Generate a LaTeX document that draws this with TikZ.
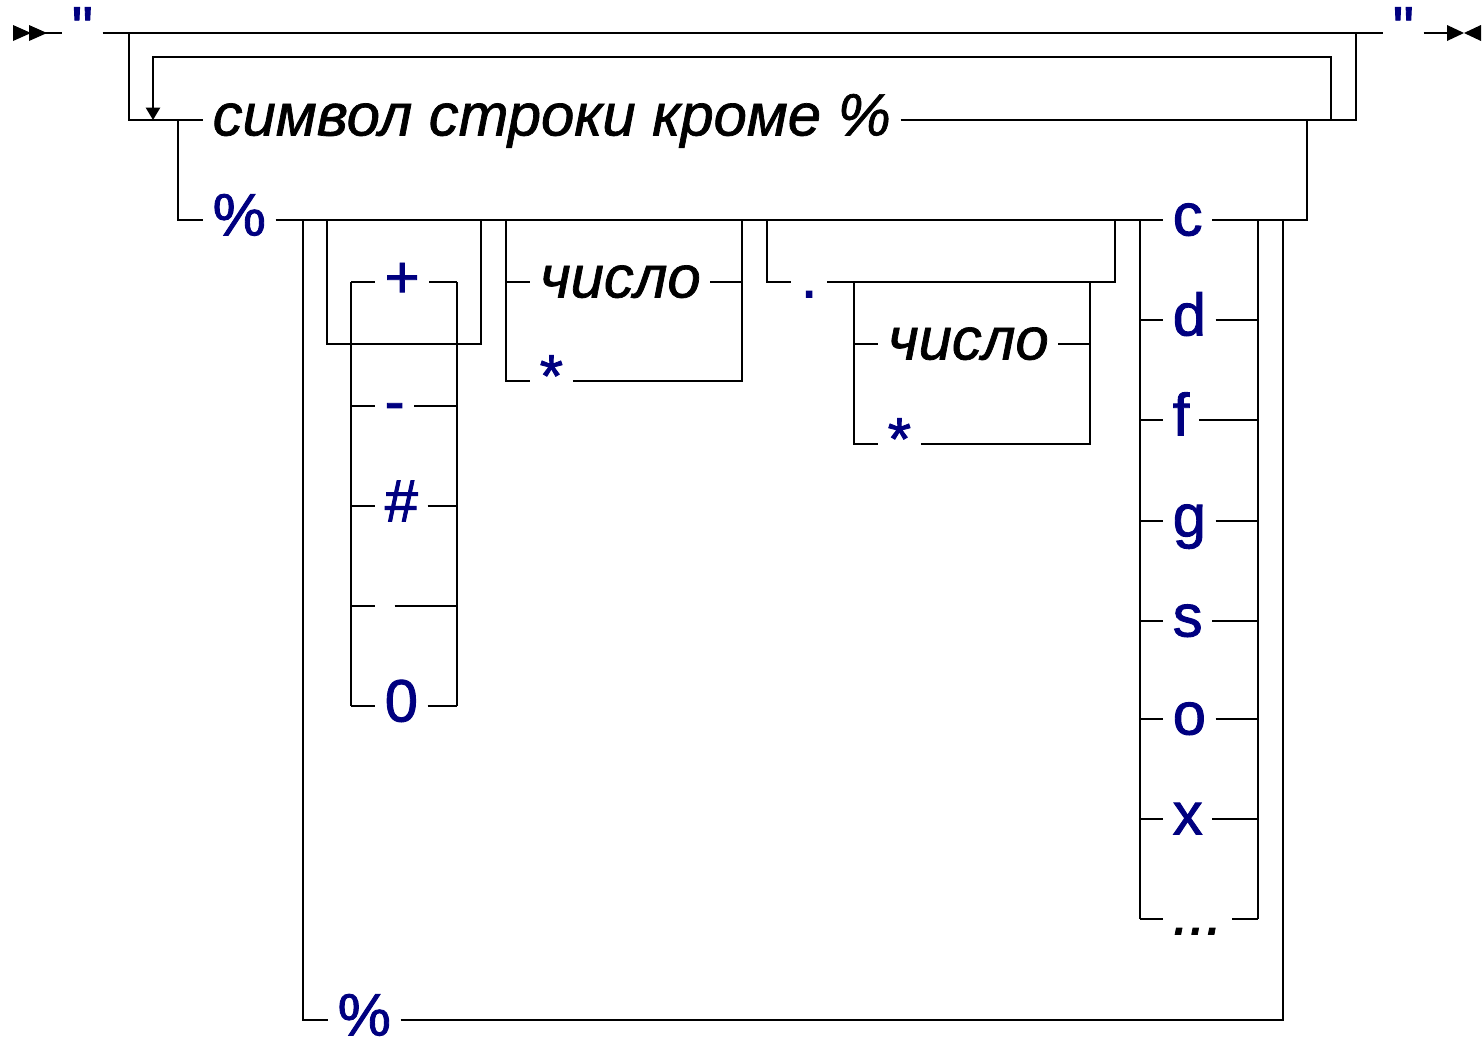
\documentclass[tikz,border=0pt]{standalone}
\usepackage{fontspec}
\setmainfont{Liberation Sans}[Ligatures=TeXOff]
\usetikzlibrary{arrows.meta}
\definecolor{termblue}{RGB}{0,0,128}

\begin{document}
\begin{tikzpicture}[x=0.02cm, y=-0.02cm, line width=1.1pt,
  term/.style={anchor=west, text=termblue,
    font=\fontsize{34}{40}\selectfont\addfontfeatures{FakeBold=1.5},
    inner xsep=5pt, inner ysep=0pt, text height=26pt, text depth=8.4pt},
  nterm/.style={term, text=black,
    font=\fontsize{34}{40}\selectfont\itshape\addfontfeatures{FakeBold=1.2}}]
\useasboundingbox (0,0) rectangle (1483,1041);

% start and end marks
\fill (13,25) -- (31,33) -- (13,41) -- cycle;
\fill (29,25) -- (47,33) -- (29,41) -- cycle;
\fill (1447,25) -- (1464,33) -- (1447,41) -- cycle;
\fill (1481,25) -- (1464,33) -- (1481,41) -- cycle;

% main line
\coordinate (st) at (45,33);
\coordinate (en) at (1447,33);
\coordinate (lpA) at (129,33);
\coordinate (lpB) at (1356,33);
\node[term] (q1) at (62,33) {"};
\node[term] (q2) at (1383,33) {"};
\draw (st) -- (q1) (q1) -- (q2) (q2) -- (en);

% repeated part
\node[nterm] (sym) at (203,120) {символ строки кроме \%};
\draw (lpA) |- (sym) (sym) -| (lpB);
\coordinate (rpA) at (153,120);
\coordinate (rpB) at (1331,120);
\coordinate (rpC) at (1331,57);
\draw[-{Triangle[length=7pt,width=8pt]}] (rpB) -- (rpC) -| (rpA);

% format branch
\coordinate (chA) at (178,120);
\coordinate (chB) at (1307,120);
\node[term] (pc1) at (203,220) {\%};
\node[term] (cc) at (1163,220) {c};
\draw (chA) |- (pc1) (pc1) -- (cc) (cc) -| (chB);

\coordinate (inA) at (303,220);
\coordinate (inB) at (1283,220);
\node[term, text height=20pt, text depth=2.4pt] (pc2) at (328,1020) {\%};
\draw (inA) |- (pc2) (pc2) -| (inB);

% flags
\coordinate (flA) at (327,220);
\coordinate (flB) at (481,220);
\coordinate (flC) at (327,344);
\coordinate (flD) at (481,344);
\draw (flA) -- (flC) -- (flD) -- (flB);
\coordinate (fl1) at (351,282);
\coordinate (fl2) at (351,706);
\coordinate (fr1) at (457,282);
\coordinate (fr2) at (457,706);
\draw (fl1) -- (fl2) (fr1) -- (fr2);
\foreach \y/\s/\n in {282/+/fplus, 406/-/fminus, 506/\#/fhash, 606/{}/fspace, 706/0/fzero} {
  \node[term] (\n) at (375,\y) {\s};
  \draw (fl1 |- \n) -- (\n) (\n) -- (fr1 |- \n);
}

% width
\coordinate (wdA) at (506,220);
\coordinate (wdB) at (742,220);
\coordinate (wdC) at (506,381);
\coordinate (wdD) at (742,381);
\node[nterm] (wnum) at (530,282) {число};
\node[term] (wstar) at (530,381) {*};
\draw (wdA) -- (wdC) -- (wstar) (wstar) -- (wdD) -- (wdB);
\draw (wdA |- wnum) -- (wnum) (wnum) -- (wdB |- wnum);

% precision
\coordinate (prA) at (767,220);
\coordinate (prB) at (1115,220);
\node[term] (dot) at (791,282) {.};
\draw (prA) |- (dot) (dot) -| (prB);
\coordinate (pcA) at (854,282);
\coordinate (pcB) at (1090,282);
\coordinate (pcC) at (854,444);
\coordinate (pcD) at (1090,444);
\node[nterm] (pnum) at (878,344) {число};
\node[term] (pstar) at (878,444) {*};
\draw (pcA) -- (pcC) -- (pstar) (pstar) -- (pcD) -- (pcB);
\draw (pcA |- pnum) -- (pnum) (pnum) -- (pcB |- pnum);

% conversion
\coordinate (cvA) at (1140,220);
\coordinate (cvB) at (1258,220);
\coordinate (cvC) at (1140,919);
\coordinate (cvD) at (1258,919);
\draw (cvA) -- (cvC) (cvB) -- (cvD);
\foreach \y/\s/\n in {320/d/cd, 420/f/cf, 521/g/cg, 621/s/cs, 719/o/co, 819/x/cx} {
  \node[term] (\n) at (1163,\y) {\s};
  \draw (cvA |- \n) -- (\n) (\n) -- (cvB |- \n);
}
\node[nterm] (cdots) at (1163,919) {...};
\draw (cvC) -- (cdots) (cdots) -- (cvD);
\end{tikzpicture}
\end{document}
